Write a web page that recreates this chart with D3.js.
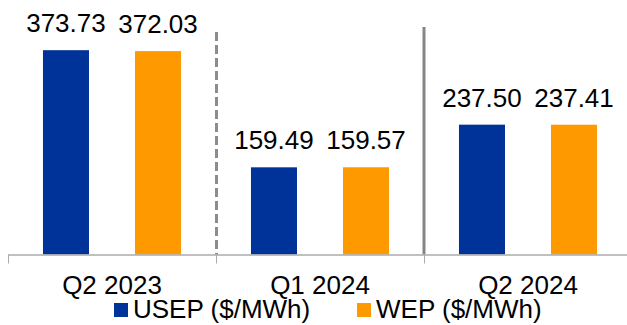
<!DOCTYPE html>
<html>
<head>
<meta charset="utf-8">
<script src="https://cdn.jsdelivr.net/npm/d3@7"></script>
<style>
  html, body { margin: 0; padding: 0; background: #fff; }
  svg { display: block; font-family: "Liberation Sans", Arial, sans-serif; }
</style>
</head>
<body>
<svg id="chart" width="627" height="325"></svg>
<script>
// Quarterly average prices
const categories = ["Q2 2023", "Q1 2024", "Q2 2024"];
const seriesNames = ["USEP ($/MWh)", "WEP ($/MWh)"];
const usep = [373.73, 159.49, 237.50];
const wep = [372.03, 159.57, 237.41];
const seriesColors = ["#003399", "#FF9900"];

const svg = d3.select("#chart");
const baseY = 254.5;

const x = d3.scaleBand().domain(categories).range([8, 632]).paddingInner(0).paddingOuter(0);
const xs = d3.scaleBand().domain(seriesNames).range([0, x.bandwidth()])
  .paddingInner(0.5).paddingOuter(0.38);
const y = d3.scaleLinear().domain([0, 400]).range([baseY, baseY - 400 * 0.5467]);

const rows = categories.map((c, i) => ({
  cat: c,
  vals: [
    { name: seriesNames[0], value: usep[i], color: seriesColors[0] },
    { name: seriesNames[1], value: wep[i], color: seriesColors[1] }
  ]
}));

// Bars
const groups = svg.append("g").selectAll("g").data(rows).join("g")
  .attr("transform", d => `translate(${x(d.cat)},0)`);

groups.selectAll("rect").data(d => d.vals).join("rect")
  .attr("x", d => xs(d.name))
  .attr("width", xs.bandwidth())
  .attr("y", d => y(d.value))
  .attr("height", d => y(0) - y(d.value))
  .attr("fill", d => d.color);

// Value labels
groups.selectAll("text.val").data(d => d.vals).join("text")
  .attr("class", "val")
  .attr("x", d => xs(d.name) + xs.bandwidth() / 2)
  .attr("y", d => y(d.value) - 18)
  .attr("text-anchor", "middle")
  .attr("font-size", 26)
  .attr("fill", "#000")
  .text(d => d.value.toFixed(2));

// Category axis
const axis = svg.append("g")
  .attr("transform", `translate(0,${baseY})`)
  .call(d3.axisBottom(x).tickSize(0).tickPadding(22));
axis.select(".domain").remove();
axis.selectAll("text")
  .attr("font-size", 26)
  .attr("fill", "#000")
  .attr("font-family", "Liberation Sans, Arial, sans-serif")
  .attr("dy", "0.71em")
  .attr("y", 21);

// Period separators
svg.append("line")
  .attr("x1", x(categories[1]) + 0.5).attr("x2", x(categories[1]) + 0.5)
  .attr("y1", 32).attr("y2", baseY)
  .attr("stroke", "#8c8c8c").attr("stroke-width", 3)
  .attr("stroke-dasharray", "9,4");

svg.append("line")
  .attr("x1", x(categories[2])).attr("x2", x(categories[2]))
  .attr("y1", 27).attr("y2", baseY)
  .attr("stroke", "#858585").attr("stroke-width", 3);

// Baseline and boundary ticks
svg.append("line")
  .attr("x1", x.range()[0]).attr("x2", 627)
  .attr("y1", baseY + 0.5).attr("y2", baseY + 0.5)
  .attr("stroke", "#ababab").attr("stroke-width", 1.5);

svg.append("g").selectAll("line").data(categories).join("line")
  .attr("x1", d => x(d) + 0.5).attr("x2", d => x(d) + 0.5)
  .attr("y1", baseY).attr("y2", baseY + 9)
  .attr("stroke", "#ababab").attr("stroke-width", 1);

// Legend
const legendPos = [114, 357];
const legend = svg.append("g").selectAll("g").data(seriesNames).join("g")
  .attr("transform", (d, i) => `translate(${legendPos[i]},303)`);
legend.append("rect")
  .attr("width", 14).attr("height", 14)
  .attr("fill", (d, i) => seriesColors[i]);
legend.append("text")
  .attr("x", 19).attr("y", 15)
  .attr("font-size", 26)
  .attr("fill", "#000")
  .text(d => d);
</script>
</body>
</html>
